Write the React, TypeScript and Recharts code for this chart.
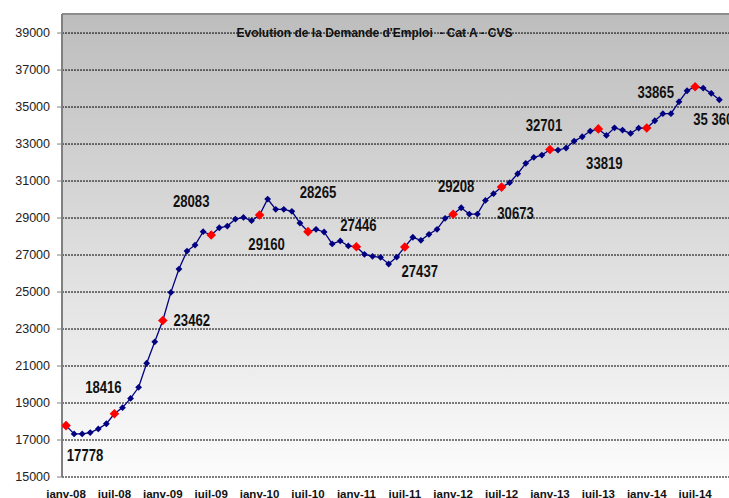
import React from 'react';
import { LineChart, Line, XAxis, YAxis, CartesianGrid, ReferenceLine } from 'recharts';

// monthly values, janv-08 .. oct-14
const values = [
  17778, 17330, 17330, 17400, 17600, 17880, 18416, 18750, 19250, 19850, 21150, 22310,
  23462, 24980, 26240, 27215, 27540, 28260, 28083, 28475, 28565, 28945, 29035, 28855,
  29160, 30025, 29470, 29470, 29360, 28730, 28265, 28390, 28245, 27600, 27760, 27490,
  27446, 27040, 26930, 26875, 26515, 26890, 27437, 27960, 27795, 28120, 28390, 28985,
  29208, 29555, 29215, 29215, 29950, 30315, 30673, 30910, 31395, 31955, 32280, 32405,
  32701, 32675, 32785, 33160, 33395, 33700, 33819, 33465, 33875, 33755, 33575, 33865,
  33865, 34260, 34640, 34640, 35285, 35880, 36095, 36025, 35740, 35395,
];

const tickLabels = [
  'janv-08', 'juil-08', 'janv-09', 'juil-09', 'janv-10', 'juil-10', 'janv-11',
  'juil-11', 'janv-12', 'juil-12', 'janv-13', 'juil-13', 'janv-14', 'juil-14',
];

const yTicks = [15000, 17000, 19000, 21000, 23000, 25000, 27000, 29000, 31000, 33000, 35000, 37000, 39000];

// annotated points
const noteIndex = [0, 6, 12, 18, 24, 30, 36, 42, 48, 54, 60, 66, 72, 81];
const noteText = ['17778', '18416', '23462', '28083', '29160', '28265', '27446', '27437', '29208', '30673', '32701', '33819', '33865', '35 360'];

// where each note sits relative to its point (centre of text, px)
const noteOffset: [number, number][] = [
  [19, 30], [-11, -27], [29, 0], [-20, -34], [7, 29], [10, -39], [2, -22],
  [15, 24], [3, -28], [14, 26], [-6, -24], [6, 34], [9, -36], [-6, 19],
];

const title = "Evolution de la Demande d'Emploi  - Cat A - CVS";

const chartData = values.map((v, i) => ({ i, v }));
const labelTicks = tickLabels.map((_, k) => k * 6);
const monthTicks = values.map((_, i) => i + 0.5);
const xDomain: [number, number] = [-0.5, 82.2];
const yTop = 40030;

const FONT = "'Liberation Sans', Arial, sans-serif";

const MonthDot = (props: any) => {
  const { cx, cy, index } = props;
  if (cx == null || cy == null) return null;
  const red = index % 6 === 0;
  const r = red ? 4.8 : 3.4;
  const k = noteIndex.indexOf(index);
  let label = null;
  if (k >= 0) {
    const txt = noteText[k];
    const len = txt.replace(' ', '').length * 7.3 + (txt.includes(' ') ? 3.6 : 0);
    label = (
      <text
        x={cx + noteOffset[k][0]}
        y={cy + noteOffset[k][1] + 5.8}
        textAnchor="middle"
        fontFamily="'Liberation Sans Narrow', 'Liberation Sans', Arial, sans-serif"
        fontWeight="bold"
        fontSize={16}
        fill="#111"
        textLength={len}
        lengthAdjust="spacingAndGlyphs"
      >
        {txt}
      </text>
    );
  }
  return (
    <g key={`dot-${index}`}>
      <polygon
        points={`${cx},${cy - r} ${cx + r},${cy} ${cx},${cy + r} ${cx - r},${cy}`}
        fill={red ? '#ff0000' : '#000080'}
      />
      {label}
    </g>
  );
};

export default function App() {
  return (
    <div style={{ position: 'absolute', left: 0, top: 0, width: 729, height: 498, background: '#fff', fontFamily: FONT }}>
      <LineChart width={729} height={498} data={chartData} margin={{ top: 14, right: 0, left: 0, bottom: 0 }}>
        <defs>
          <linearGradient id="bgGrad" x1="0" y1="0" x2="0" y2="1">
            <stop offset="0%" stopColor="#bdbdbd" />
            <stop offset="100%" stopColor="#fcfcfc" />
          </linearGradient>
        </defs>
        <CartesianGrid
          xAxisId="tk"
          vertical={false}
          stroke="#000"
          strokeDasharray="2 1"
          fill="url(#bgGrad)"
          fillOpacity={1}
        />
        <XAxis
          xAxisId="tk"
          dataKey="i"
          type="number"
          domain={xDomain}
          allowDataOverflow
          ticks={monthTicks}
          tickFormatter={() => ''}
          height={0}
          tickSize={4}
          tickLine={{ stroke: '#808080' }}
          axisLine={{ stroke: '#808080', strokeWidth: 2 }}
          interval={0}
        />
        <XAxis
          xAxisId="lab"
          dataKey="i"
          type="number"
          domain={xDomain}
          allowDataOverflow
          ticks={labelTicks}
          tickFormatter={(v: number) => tickLabels[Math.round(v / 6)]}
          height={21}
          tickSize={10}
          tickMargin={3}
          tickLine={false}
          axisLine={false}
          interval={0}
          tick={{ fontSize: 11.5, fontWeight: 'bold', fill: '#111', fontFamily: FONT }}
        />
        <YAxis
          type="number"
          domain={[15000, yTop]}
          allowDataOverflow
          ticks={yTicks}
          interval={0}
          width={62}
          tickSize={5}
          tickMargin={7}
          tickLine={{ stroke: '#808080' }}
          axisLine={{ stroke: '#808080', strokeWidth: 2 }}
          tick={{ fontSize: 12.5, fill: '#222', fontFamily: FONT }}
        />
        <ReferenceLine xAxisId="tk" y={yTop} stroke="#8c8c8c" strokeWidth={2} />
        <Line
          xAxisId="lab"
          dataKey="v"
          stroke="none"
          dot={false}
          activeDot={false}
          legendType="none"
          isAnimationActive={false}
        />
        <Line
          xAxisId="tk"
          dataKey="v"
          stroke="#000080"
          strokeWidth={1.3}
          dot={MonthDot}
          activeDot={false}
          isAnimationActive={false}
        />
      </LineChart>
      <div
        style={{
          position: 'absolute',
          left: 221,
          top: 27,
          width: 307,
          textAlign: 'center',
          fontSize: 12,
          lineHeight: '13px',
          fontWeight: 'bold',
          color: '#111',
          whiteSpace: 'pre',
        }}
      >
        {title}
      </div>
    </div>
  );
}
